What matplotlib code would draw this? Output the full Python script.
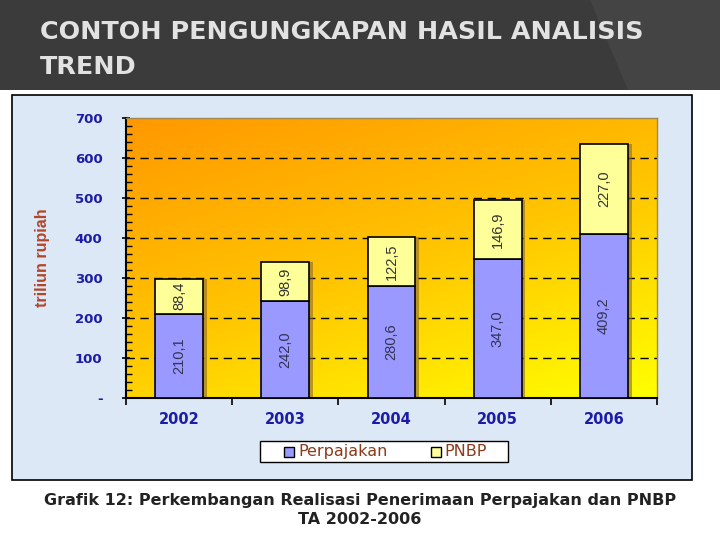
import numpy as np
import matplotlib
matplotlib.use("Agg")
import matplotlib.pyplot as plt
from matplotlib.patches import Rectangle, Polygon
from matplotlib.colors import LinearSegmentedColormap

years = ["2002", "2003", "2004", "2005", "2006"]
perpajakan = [210.1, 242.0, 280.6, 347.0, 409.2]
pnbp = [88.4, 98.9, 122.5, 146.9, 227.0]
perp_labels = ["210,1", "242,0", "280,6", "347,0", "409,2"]
pnbp_labels = ["88,4", "98,9", "122,5", "146,9", "227,0"]
yticks = [0, 100, 200, 300, 400, 500, 600, 700]
ytick_labels = ["-", "100", "200", "300", "400", "500", "600", "700"]

W, H = 720, 540
fig = plt.figure(figsize=(7.2, 5.4), dpi=100)
fig.patch.set_facecolor("white")

def fx(x): return x / W
def fy(y): return 1 - y / H

# header
fig.patches.append(Rectangle((0, fy(90)), 1, 90 / H, transform=fig.transFigure,
                             facecolor="#3b3b3b", edgecolor="none", zorder=0))
fig.patches.append(Polygon([(fx(590), fy(0)), (fx(720), fy(0)), (fx(720), fy(90)), (fx(628), fy(90))],
                           closed=True, transform=fig.transFigure, facecolor="#444444",
                           edgecolor="none", zorder=0))
fig.text(fx(40), fy(32), "CONTOH PENGUNGKAPAN HASIL ANALISIS", color="#e2e2e2",
         fontsize=18.3, fontweight="bold", family="DejaVu Sans", va="center", ha="left")
fig.text(fx(40), fy(67), "TREND", color="#e2e2e2",
         fontsize=18.3, fontweight="bold", family="DejaVu Sans", va="center", ha="left")

# chart image box
fig.patches.append(Rectangle((fx(12), fy(480)), (692 - 12) / W, (480 - 95) / H,
                             transform=fig.transFigure, facecolor="#dce8f5",
                             edgecolor="black", linewidth=1.2, zorder=0))

ax = fig.add_axes([fx(126), fy(398), (657 - 126) / W, (398 - 118) / H])
ax.set_zorder(3)
ax.set_xlim(-0.5, 4.5)
ax.set_ylim(0, 700)

# gradient background
cmap = LinearSegmentedColormap.from_list("og", ["#ff9800", "#ffc400", "#ffff00"])
nx, ny = 200, 200
gx, gy = np.meshgrid(np.linspace(0, 1, nx), np.linspace(1, 0, ny))
grad = (gx * 0.45 + (1 - gy) * 0.75)
grad = grad / grad.max()
ax.imshow(grad, extent=(-0.5, 4.5, 0, 700), aspect="auto", cmap=cmap, zorder=0,
          origin="upper", vmin=0, vmax=1)

x = np.arange(len(years))
bw = 0.45
# shadows
ax.bar(x + 0.035, np.array(perpajakan) + np.array(pnbp), width=bw, color="#8a6a30",
       alpha=0.6, zorder=2, linewidth=0)
ax.bar(x, perpajakan, width=bw, color="#9999ff", edgecolor="black", linewidth=1.2, zorder=3)
ax.bar(x, pnbp, width=bw, bottom=perpajakan, color="#ffff99", edgecolor="black",
       linewidth=1.2, zorder=3)

for i in range(len(years)):
    ax.text(x[i], perpajakan[i] / 2, perp_labels[i], rotation=90, ha="center", va="center",
            fontsize=10.5, color="#333355", family="Liberation Sans", zorder=4)
    ax.text(x[i], perpajakan[i] + pnbp[i] / 2, pnbp_labels[i], rotation=90, ha="center",
            va="center", fontsize=10.5, color="#333333", family="Liberation Sans", zorder=4)

for yv in [100, 200, 300, 400, 500, 600]:
    ax.axhline(yv, color="black", linestyle=(0, (6, 4)), linewidth=1.0, zorder=1)

ax.set_yticks(yticks)
ax.set_yticklabels(ytick_labels, color="#1c1ca8", fontweight="bold", fontsize=9.5,
                   family="DejaVu Sans")
ax.set_yticks(np.arange(0, 701, 20), minor=True)
ax.tick_params(axis="y", which="major", length=6, width=1.2, direction="inout", pad=14)
ax.tick_params(axis="y", which="minor", length=4, width=1.0, direction="in")

ax.set_xticks(x)
ax.set_xticklabels(years, color="#1c1ca8", fontweight="bold", fontsize=10.5,
                   family="DejaVu Sans")
ax.tick_params(axis="x", which="major", length=0, pad=10)
ax.set_xticks(np.arange(-0.5, 4.6, 1.0), minor=True)
ax.tick_params(axis="x", which="minor", length=5, width=1.2, direction="out")

for s in ["left", "bottom"]:
    ax.spines[s].set_color("black")
    ax.spines[s].set_linewidth(1.5)
for s in ["top", "right"]:
    ax.spines[s].set_color("#a08850")
    ax.spines[s].set_linewidth(1.0)

ax.set_ylabel("triliun rupiah", color="#b2452a", fontsize=11.5, fontweight="bold",
              family="Liberation Sans", labelpad=18)

# legend
lx0, ly0, lx1, ly1 = 260, 441, 508, 462
fig.patches.append(Rectangle((fx(lx0), fy(ly1)), (lx1 - lx0) / W, (ly1 - ly0) / H,
                             transform=fig.transFigure, facecolor="white",
                             edgecolor="black", linewidth=1.0, zorder=1))
fig.patches.append(Rectangle((fx(284), fy(456.5)), 10 / W, 10 / H, transform=fig.transFigure,
                             facecolor="#9999ff", edgecolor="black", linewidth=1.0, zorder=2))
fig.text(fx(298), fy(451.5), "Perpajakan", color="#8b3a1a", fontsize=11.5, va="center",
         ha="left", family="DejaVu Sans")
fig.patches.append(Rectangle((fx(431), fy(456.5)), 10 / W, 10 / H, transform=fig.transFigure,
                             facecolor="#ffff99", edgecolor="black", linewidth=1.0, zorder=2))
fig.text(fx(444), fy(451.5), "PNBP", color="#8b3a1a", fontsize=11.5, va="center",
         ha="left", family="DejaVu Sans")

# caption
fig.text(0.5, fy(501), "Grafik 12: Perkembangan Realisasi Penerimaan Perpajakan dan PNBP",
         ha="center", va="center", fontsize=11.5, fontweight="bold", color="#222222",
         family="DejaVu Sans")
fig.text(0.5, fy(519), "TA 2002-2006", ha="center", va="center", fontsize=11.5,
         fontweight="bold", color="#222222", family="DejaVu Sans")

fig.savefig("out.png", dpi=100, facecolor=fig.get_facecolor())
